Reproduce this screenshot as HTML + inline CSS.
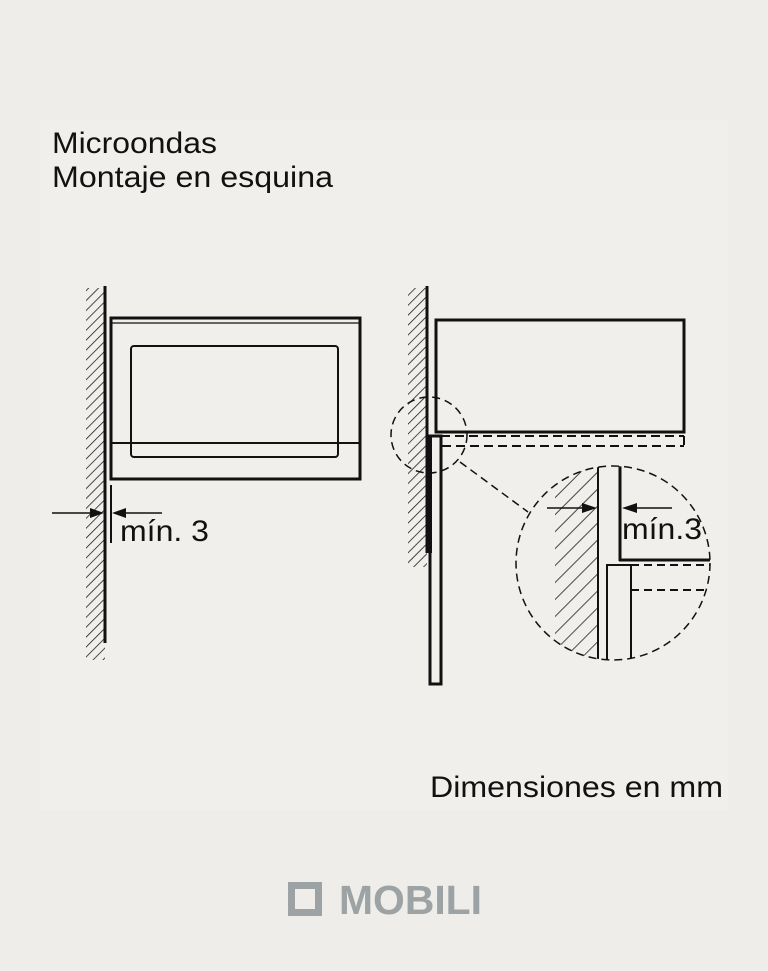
<!DOCTYPE html>
<html><head><meta charset="utf-8"><style>
html,body{margin:0;padding:0;background:#eeede9;}
svg{display:block;}
text{font-family:"Liberation Sans",sans-serif;fill:#111;}
</style></head><body>
<svg width="768" height="971" viewBox="0 0 768 971" xmlns="http://www.w3.org/2000/svg">
<defs>
<pattern id="h" patternUnits="userSpaceOnUse" width="7" height="7" patternTransform="rotate(45)">
<line x1="0" y1="0" x2="0" y2="7" stroke="#111" stroke-width="1.5"/>
</pattern>
<pattern id="h2" patternUnits="userSpaceOnUse" width="12" height="12" patternTransform="rotate(45)">
<line x1="0" y1="0" x2="0" y2="12" stroke="#111" stroke-width="1.5"/>
</pattern>
<clipPath id="bc"><circle cx="613" cy="563" r="97"/></clipPath>
</defs>
<rect x="40" y="120" width="688" height="690" fill="#f0efeb"/>
<text x="52" y="153" font-size="30" textLength="165" lengthAdjust="spacingAndGlyphs">Microondas</text>
<text x="52" y="187" font-size="30" textLength="281" lengthAdjust="spacingAndGlyphs">Montaje en esquina</text>

<!-- Left diagram -->
<rect x="86" y="288" width="19" height="372" fill="url(#h)"/>
<line x1="105" y1="286" x2="105" y2="643" stroke="#111" stroke-width="3"/>
<rect x="111" y="318" width="249" height="161" fill="none" stroke="#111" stroke-width="3"/>
<line x1="111" y1="323" x2="360" y2="323" stroke="#111" stroke-width="1.2"/>
<rect x="131" y="346" width="207" height="111" rx="3" fill="none" stroke="#111" stroke-width="2"/>
<line x1="111" y1="443" x2="360" y2="443" stroke="#111" stroke-width="2"/>
<line x1="111" y1="485" x2="111" y2="543" stroke="#111" stroke-width="2"/>
<line x1="52" y1="513" x2="92" y2="513" stroke="#111" stroke-width="1.5"/>
<polygon points="104,513 90,508 90,518" fill="#111"/>
<line x1="124" y1="513" x2="162" y2="513" stroke="#111" stroke-width="1.5"/>
<polygon points="112,513 126,508 126,518" fill="#111"/>
<text x="120" y="541" font-size="30" textLength="89" lengthAdjust="spacingAndGlyphs">mín. 3</text>

<!-- Right diagram -->
<rect x="408" y="288" width="19" height="279" fill="url(#h)"/>
<line x1="427" y1="286" x2="427" y2="553" stroke="#111" stroke-width="3"/>
<rect x="436" y="320" width="248" height="112" fill="none" stroke="#111" stroke-width="3"/>
<rect x="430" y="436" width="11" height="248" fill="none" stroke="#111" stroke-width="3"/>
<rect x="427" y="436" width="5" height="117" fill="#111"/>
<g stroke="#111" stroke-width="2" stroke-dasharray="9,5" fill="none">
<line x1="441" y1="436" x2="684" y2="436"/>
<line x1="442" y1="446" x2="684" y2="446"/>
<line x1="684" y1="436" x2="684" y2="446"/>
</g>
<g stroke="#111" stroke-width="1.5" stroke-dasharray="8,5" fill="none">
<circle cx="429" cy="435" r="38"/>
<line x1="460" y1="462" x2="528" y2="512"/>
<circle cx="613" cy="563" r="97"/>
</g>
<g clip-path="url(#bc)">
<rect x="555" y="467" width="43" height="200" fill="url(#h2)"/>
<line x1="598" y1="467" x2="598" y2="662" stroke="#111" stroke-width="2"/>
<line x1="607" y1="565" x2="607" y2="662" stroke="#111" stroke-width="2"/>
<line x1="631" y1="565" x2="631" y2="662" stroke="#111" stroke-width="2"/>
<line x1="606" y1="565" x2="631" y2="565" stroke="#111" stroke-width="2"/>
<line x1="620" y1="466" x2="620" y2="561" stroke="#111" stroke-width="3"/>
<line x1="619" y1="560" x2="712" y2="560" stroke="#111" stroke-width="3"/>
<g stroke="#111" stroke-width="2" stroke-dasharray="8,5">
<line x1="631" y1="565" x2="712" y2="565"/>
<line x1="631" y1="590" x2="710" y2="590"/>
</g>
</g>
<line x1="547" y1="508" x2="584" y2="508" stroke="#111" stroke-width="1.5"/>
<polygon points="597,508 582,503 582,513" fill="#111"/>
<line x1="634" y1="508" x2="672" y2="508" stroke="#111" stroke-width="1.5"/>
<polygon points="622,508 637,503 637,513" fill="#111"/>
<text x="622" y="539" font-size="30" textLength="80" lengthAdjust="spacingAndGlyphs">mín.3</text>

<text x="430" y="797" font-size="30" textLength="293" lengthAdjust="spacingAndGlyphs">Dimensiones en mm</text>

<!-- Logo -->
<rect x="291.5" y="885.5" width="27" height="27" fill="none" stroke="#9da3a5" stroke-width="7"/>
<text x="339" y="914" font-size="41" font-weight="bold" style="fill:#9da3a5" textLength="143" lengthAdjust="spacingAndGlyphs">MOBILI</text>
</svg>
</body></html>
